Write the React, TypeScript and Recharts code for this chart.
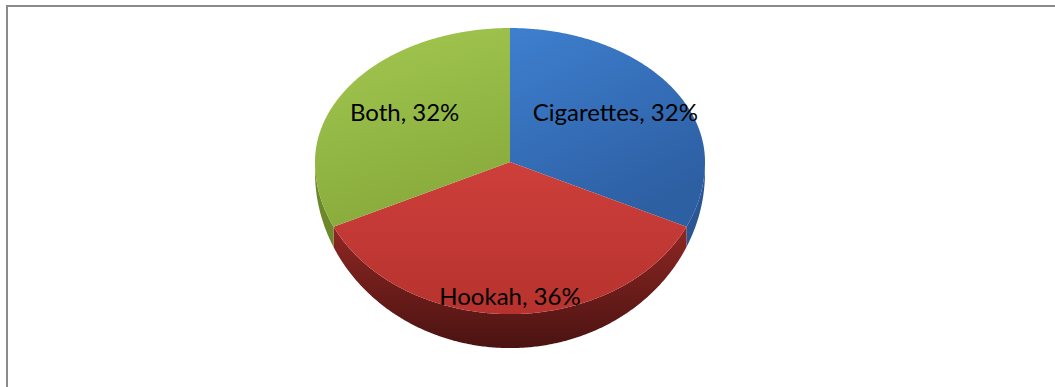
import React from "react";
import { Cell, Pie, PieChart } from "recharts";

// values
const categories = ["Cigarettes", "Hookah", "Both"];
const shares = [32, 36, 32];

const topFills = ["url(#topBlue)", "url(#topRed)", "url(#topGreen)"];
const sideFills = ["#2b5593", "url(#sideRed)", "#6c882b"];

const data = categories.map((name, i) => ({ name, value: shares[i] }));

// fake 3d: back half of the disc is flatter than the front half, front rim is extruded
const RY_BACK = 0.687;
const RY_FRONT = 0.78;
const DEPTH = 34;

function ellipsePoint(cx: number, cy: number, r: number, deg: number, withDepth = false) {
  const a = (deg * Math.PI) / 180;
  const s = Math.sin(a);
  const ry = r * (s > 0 ? RY_BACK : RY_FRONT);
  let y = cy - ry * s;
  if (withDepth) y += DEPTH * (0.3 + 0.7 * Math.max(0, -s));
  return [cx + r * Math.cos(a), y];
}

function Slice3D(props: any) {
  const { cx, cy, outerRadius, startAngle, endAngle, fill } = props;
  const name = props.name ?? props.payload?.name;
  const idx = categories.indexOf(name);
  const hi = Math.max(startAngle, endAngle);
  const lo = Math.min(startAngle, endAngle);
  const steps = Math.max(2, Math.ceil((hi - lo) / 0.5));
  const angles: number[] = [];
  for (let k = 0; k <= steps; k++) angles.push(hi - ((hi - lo) * k) / steps);

  // side wall, only where the rim faces the viewer
  const runs: number[][] = [];
  let cur: number[] = [];
  angles.forEach((a) => {
    if (Math.sin((a * Math.PI) / 180) <= 1e-9) cur.push(a);
    else if (cur.length) {
      runs.push(cur);
      cur = [];
    }
  });
  if (cur.length) runs.push(cur);
  const walls = runs
    .filter((r) => r.length > 1)
    .map((r) => {
      const upper = r.map((a) => ellipsePoint(cx, cy, outerRadius, a));
      const lower = r
        .slice()
        .reverse()
        .map((a) => ellipsePoint(cx, cy, outerRadius, a, true));
      return "M" + [...upper, ...lower].map((p) => `${p[0]},${p[1]}`).join("L") + "Z";
    });

  const rim = angles.map((a) => ellipsePoint(cx, cy, outerRadius, a));
  const top = `M${cx},${cy}L` + rim.map((p) => `${p[0]},${p[1]}`).join("L") + "Z";

  return (
    <g>
      {walls.map((d, i) => (
        <path key={i} d={d} fill={sideFills[idx]} />
      ))}
      <path d={top} fill={fill} />
    </g>
  );
}

const renderLabel = (p: any) => {
  const mid = (p.midAngle * Math.PI) / 180;
  const r = p.outerRadius;
  const s = Math.sin(mid);
  const down = Math.max(0, -s);
  const ry = r * (s > 0 ? RY_BACK : RY_FRONT);
  const x = p.cx + r * 0.64 * Math.cos(mid);
  const y = p.cy - ry * (0.7 + 0.175 * down) * s;
  const name = p.name ?? p.payload?.name;
  return (
    <text
      x={x}
      y={y}
      textAnchor="middle"
      dominantBaseline="central"
      fill="#000"
      fontSize={24}
      fontFamily="Lato, 'Open Sans', sans-serif"
    >
      {`${name}, ${p.value}%`}
    </text>
  );
};

export default function App() {
  return (
    <div
      style={{
        position: "fixed",
        left: 0,
        top: 0,
        width: 1055,
        height: 387,
        background: "#fff",
        overflow: "hidden",
      }}
    >
      <div
        style={{
          position: "absolute",
          left: 6,
          top: 5,
          width: 1100,
          height: 420,
          borderTop: "2px solid #8a8a8a",
          borderLeft: "2px solid #8a8a8a",
        }}
      />
      <div style={{ position: "absolute", left: 0, top: 0 }}>
        <PieChart width={1055} height={387} margin={{ top: 0, right: 0, bottom: 0, left: 0 }}>
          <defs>
            <linearGradient id="topBlue" x1="0" y1="0" x2="0.5" y2="1">
              <stop offset="0%" stopColor="#3e7fcf" />
              <stop offset="100%" stopColor="#2d5fa3" />
            </linearGradient>
            <linearGradient id="topRed" x1="0" y1="0" x2="0" y2="1">
              <stop offset="0%" stopColor="#cd3f3b" />
              <stop offset="100%" stopColor="#b7322e" />
            </linearGradient>
            <linearGradient id="topGreen" x1="0" y1="0" x2="0.3" y2="1">
              <stop offset="0%" stopColor="#a3c850" />
              <stop offset="100%" stopColor="#88ab3c" />
            </linearGradient>
            <linearGradient id="sideRed" x1="0" y1="0" x2="0" y2="1">
              <stop offset="0%" stopColor="#8f2724" />
              <stop offset="100%" stopColor="#4a1311" />
            </linearGradient>
          </defs>
          <Pie
            data={data}
            dataKey="value"
            nameKey="name"
            cx={510}
            cy={162}
            outerRadius={195}
            startAngle={90}
            endAngle={-270}
            stroke="none"
            labelLine={false}
            label={renderLabel}
            shape={Slice3D}
            activeShape={Slice3D}
            inactiveShape={Slice3D}
            isAnimationActive={false}
          >
            {data.map((d, i) => (
              <Cell key={d.name} fill={topFills[i]} />
            ))}
          </Pie>
        </PieChart>
      </div>
    </div>
  );
}
